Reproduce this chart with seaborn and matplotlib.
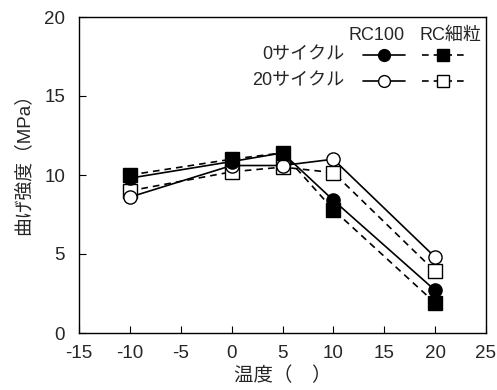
import matplotlib
matplotlib.use("Agg")
import matplotlib.pyplot as plt
import seaborn as sns
import pandas as pd
from matplotlib.lines import Line2D

temps = [-10, 0, 5, 10, 20]
rc100_0 = [9.8, 10.85, 11.4, 8.4, 2.7]
rcfine_0 = [10.0, 11.0, 11.4, 7.8, 1.9]
rc100_20 = [8.6, 10.6, 10.6, 11.0, 4.8]
rcfine_20 = [9.0, 10.2, 10.5, 10.15, 3.9]

col_headers = ["RC100", "RC細粒"]
row_labels = ["0サイクル", "20サイクル"]
xlabel = "温度（　）"
ylabel = "曲げ強度（MPa）"

sns.set_theme(style="ticks")
plt.rcParams['font.family'] = ['Liberation Sans', 'Noto Sans CJK JP', 'DejaVu Sans']
plt.rcParams['axes.unicode_minus'] = False

fig = plt.figure(figsize=(4.97, 3.90), dpi=100)
ax = fig.add_axes([79/497, (390-333)/390, 407/497, 316/390])

series = [
    (rcfine_20, "--", "s", "white"),
    (rc100_20, "-", "o", "white"),
    (rcfine_0, "--", "s", "black"),
    (rc100_0, "-", "o", "black"),
]
ms = 9.5
for vals, ls, mk, fc in series:
    df = pd.DataFrame({"x": temps, "y": vals})
    sns.lineplot(data=df, x="x", y="y", ax=ax, color="black",
                 marker=mk, markersize=ms, markerfacecolor=fc,
                 markeredgecolor="black", markeredgewidth=1.0, linewidth=1.2,
                 legend=False)
    ax.lines[-1].set_linestyle(ls)
    if ls == "--":
        ax.lines[-1].set_dashes((4, 3))

ax.set_xlim(-15, 25)
ax.set_ylim(0, 20)
ax.set_xticks(range(-15, 26, 5))
ax.set_yticks(range(0, 21, 5))
ax.tick_params(direction="in", length=5, width=0.8, labelsize=13.5, color="black")
ax.tick_params(axis="x", pad=9)
ax.tick_params(axis="y", pad=10)
for s in ax.spines.values():
    s.set_color("black")
    s.set_linewidth(1.0)
ax.set_xlabel(xlabel, fontsize=14, labelpad=3)
ax.set_ylabel(ylabel, fontsize=13.5)
ax.yaxis.set_label_coords(-47/407, 0.55)

def fx(px):
    return (px - 79) / 407
def fy(py):
    return (333 - py) / 316

ax.text(fx(377), fy(35), col_headers[0], transform=ax.transAxes, ha="center", va="center", fontsize=13)
ax.text(fx(450), fy(35), col_headers[1], transform=ax.transAxes, ha="center", va="center", fontsize=13)
rows_y = [55, 81]
fills = ["black", "white"]
for ry, lab, fc in zip(rows_y, row_labels, fills):
    ax.text(fx(344), fy(ry), lab, transform=ax.transAxes, ha="right", va="center", fontsize=13)
    ax.add_line(Line2D([fx(363), fx(405)], [fy(ry), fy(ry)], transform=ax.transAxes,
                       color="black", lw=1.2, linestyle="-"))
    ax.add_line(Line2D([fx(384)], [fy(ry)], transform=ax.transAxes, marker="o", ms=8.5,
                       mfc=fc, mec="black", mew=1.0, linestyle="none"))
    ax.add_line(Line2D([fx(422), fx(465)], [fy(ry), fy(ry)], transform=ax.transAxes,
                       color="black", lw=1.2, dashes=(4, 3)))
    ax.add_line(Line2D([fx(443)], [fy(ry)], transform=ax.transAxes, marker="s", ms=8.5,
                       mfc=fc, mec="black", mew=1.0, linestyle="none"))

fig.savefig("out.png", dpi=100)
